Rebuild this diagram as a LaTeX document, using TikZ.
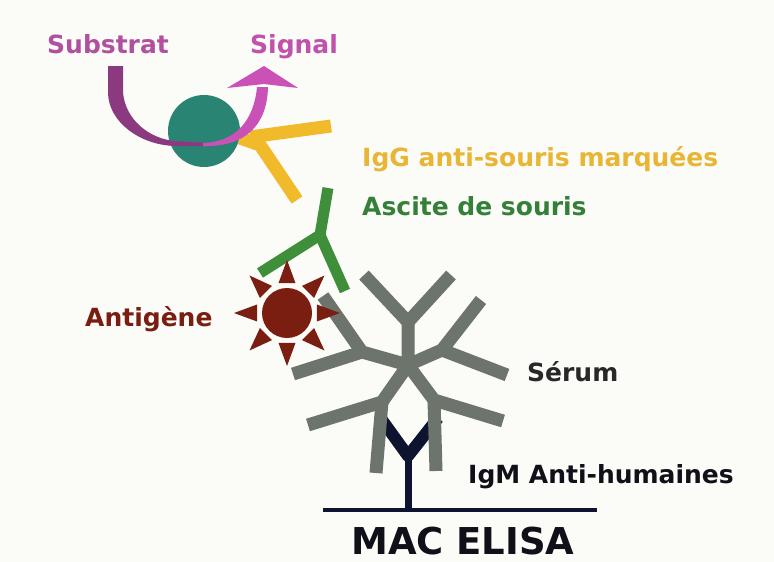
\documentclass[tikz,border=0pt]{standalone}
\usepackage{fontspec}
\newfontfamily\lblfont{DejaVu Sans}
\definecolor{bgc}{RGB}{251,251,248}
\definecolor{substxt}{RGB}{178,80,160}
\definecolor{sigtxt}{RGB}{192,82,172}
\definecolor{subarc}{RGB}{140,58,128}
\definecolor{sigarc}{RGB}{202,82,182}
\definecolor{enzyme}{RGB}{42,132,116}
\definecolor{igg}{RGB}{240,186,42}
\definecolor{iggtxt}{RGB}{232,182,52}
\definecolor{ascite}{RGB}{62,142,58}
\definecolor{ascitetxt}{RGB}{52,128,56}
\definecolor{antigen}{RGB}{122,30,18}
\definecolor{serum}{RGB}{108,116,108}
\definecolor{serumtxt}{RGB}{40,40,40}
\definecolor{igm}{RGB}{14,20,48}
\definecolor{igmtxt}{RGB}{16,16,24}
\tikzset{
  lbl/.style={anchor=base west, inner sep=0pt,
    font={\lblfont\bfseries\fontsize{25}{25}\selectfont}},
  arm/.style={line width=#1, line join=round},
  arm/.default=13pt
}
\begin{document}
\begin{tikzpicture}[x=1pt,y=-1pt]
\fill[bgc] (0,0) rectangle (774,562);
\useasboundingbox (0,0) rectangle (774,562);

% labelled anti-mouse IgG (yellow)
\draw[igg, arm] (240,138) -- (260,145) -- (297,200);
\draw[igg, arm] (250,137) -- (331,126);

% enzyme
\fill[enzyme] (204,131) circle (36);

% substrate entering (purple) and signal leaving (pink)
\fill[subarc] (108,66) -- (123,66) -- (123,92)
  .. controls (125,120) and (150,139) .. (175,141) -- (210,143)
  -- (210,146) -- (175,146)
  .. controls (140,145) and (108,122) .. (108,92) -- cycle;
\fill[sigarc] (203,143) .. controls (236,142) and (254,120) .. (257,87)
  -- (268,87) .. controls (267,125) and (246,147) .. (203,146) -- cycle;
\fill[sigarc] (227,88) -- (264,66) -- (298,88) -- (264,84) -- cycle;

% mouse ascites antibody (green)
\draw[ascite, arm=11pt] (328,188) -- (320,235) -- (260,273);
\draw[ascite, arm=11pt] (320,235) -- (345,291);

% anti-human IgM on the solid phase (navy)
\draw[igm, line width=7pt] (408,510) -- (408,452);
\draw[igm, arm=12pt] (382,420) -- (408,456) -- (438,418);

% serum IgM pentamer (grey)
\coordinate (c) at (408,365);
\foreach \f/\a/\b in {
  {(408,322)}/{(364,275)}/{(451,275)},
  {(442,350)}/{(481,300)}/{(507,375)},
  {(362,352)}/{(323,296)}/{(293,374)},
  {(382,402)}/{(308,425)}/{(376,473)},
  {(434,400)}/{(503,421)}/{(436,471)}}{
  \draw[serum, arm] (c) -- \f -- \a;
  \draw[serum, arm] \f -- \b;
}

% antigen
\begin{scope}[shift={(287,313)}]
  \fill[antigen] (0,0) circle (25);
  \foreach \t in {0,45,...,315}
    \fill[antigen] (\t-16:31) -- (\t:53) -- (\t+16:31) -- cycle;
\end{scope}

% solid phase
\draw[igm, line width=4pt] (323,510) -- (597,510);

% labels
\node[lbl, text=substxt] (substrat) at (47,53) {Substrat};
\node[lbl, text=sigtxt] (signal) at (250,53) {Signal};
\node[lbl, text=iggtxt] (iggl) at (362,166) {IgG anti-souris marquées};
\node[lbl, text=ascitetxt] (ascitel) at (362,215) {Ascite de souris};
\node[lbl, text=antigen] (antigenel) at (85,326) {Antigène};
\node[lbl, text=serumtxt] (seruml) at (527,381) {Sérum};
\node[lbl, text=igmtxt] (igml) at (468,483) {IgM Anti-humaines};
\node[anchor=base west, inner sep=0pt, text=igmtxt,
  font={\lblfont\bfseries\fontsize{37}{37}\selectfont}] (title) at (351,554) {MAC ELISA};
\end{tikzpicture}
\end{document}
